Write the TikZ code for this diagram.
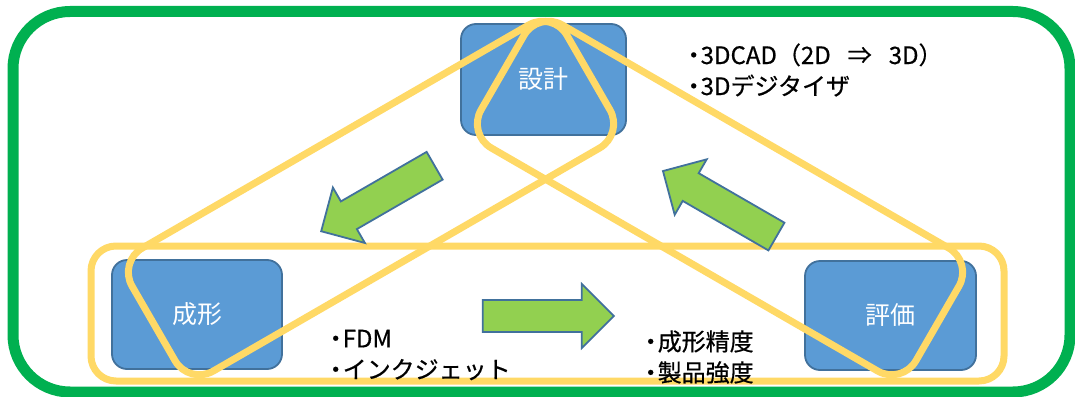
\documentclass[tikz,border=0pt]{standalone}
\usepackage{fontspec}
\newfontfamily\jp{Noto Sans CJK JP}
\newfontfamily\jpnote{Noto Sans CJK JP}[FakeBold=0.6]
\newcommand\bulmark{・\kern-5pt}
\definecolor{framegreen}{HTML}{00B050}
\definecolor{hl}{HTML}{FFD966}
\definecolor{boxfill}{HTML}{5B9BD5}
\definecolor{boxline}{HTML}{41719C}
\definecolor{arrowgreen}{HTML}{92D050}
\begin{document}
\begin{tikzpicture}[x=1pt,y=-1pt,
  stage/.style={draw=boxline, fill=boxfill, line width=1.8pt, rounded corners=15pt,
    text=white, font=\jp\fontsize{25}{30}\selectfont, inner sep=0pt},
  ring/.style={draw=hl, line width=7pt, rounded corners=28pt},
  note/.style={font=\jpnote\fontsize{24}{31}\selectfont, align=left, anchor=west, inner sep=0pt},
  blockarrow/.style={fill=arrowgreen, draw=boxline, line width=1.8pt, line join=miter}]
\useasboundingbox (0,0) rectangle (1075,396);
\fill[white] (0,0) rectangle (1075,396);
% outer frame
\draw[framegreen, line width=11pt, rounded corners=57pt] (13,11.5) rectangle (1070,392);
% stages
\node[stage, minimum width=165pt, minimum height=111pt] (sekkei) at (543.5,79.5) {設計};
\node[stage, minimum width=170pt, minimum height=109pt] (seikei) at (197,314.5) {成形};
\node[stage, minimum width=171pt, minimum height=109pt] (hyouka) at (890.5,315.5) {評価};
% highlight rings
\draw[ring, rounded corners=25pt] (91,246) rectangle (1004,381);
\coordinate (LA) at (552.9,11);
\coordinate (LP) at (623.9,134);
\coordinate (LQ) at (189.1,385);
\coordinate (LR) at (118.1,262);
\draw[ring] (LA) -- (LP) -- (LQ) -- (LR) -- cycle;
\coordinate (RA) at (538.1,11);
\coordinate (RP) at (467.1,134);
\coordinate (RQ) at (901.9,385);
\coordinate (RR) at (972.9,262);
\draw[ring] (RA) -- (RP) -- (RQ) -- (RR) -- cycle;
% block arrows
\begin{scope}[shift={(377.9,198.5)}, rotate=210]
  \draw[blockarrow] (-65.5,-16) -- (33.5,-16) -- (33.5,-32) -- (65.5,0) -- (33.5,32) -- (33.5,16) -- (-65.5,16) -- cycle;
\end{scope}
\begin{scope}[shift={(719.7,203.8)}, rotate=150]
  \draw[blockarrow] (-65.5,-16) -- (33.5,-16) -- (33.5,-32) -- (65.5,0) -- (33.5,32) -- (33.5,16) -- (-65.5,16) -- cycle;
\end{scope}
\begin{scope}[shift={(548.3,316)}]
  \draw[blockarrow] (-65.5,-16) -- (33.5,-16) -- (33.5,-32) -- (65.5,0) -- (33.5,32) -- (33.5,16) -- (-65.5,16) -- cycle;
\end{scope}
% notes
\node[note] (cad) at (681.5,70) {\bulmark 3DCAD（2D\hspace{17pt}⇒\hspace{17pt}3D）\\\bulmark 3Dデジタイザ};
\node[note] (fdm) at (323.5,355) {\bulmark FDM\\\bulmark インクジェット};
\node[note] (eval) at (638.5,357) {\bulmark 成形精度\\\bulmark 製品強度};
\end{tikzpicture}
\end{document}
